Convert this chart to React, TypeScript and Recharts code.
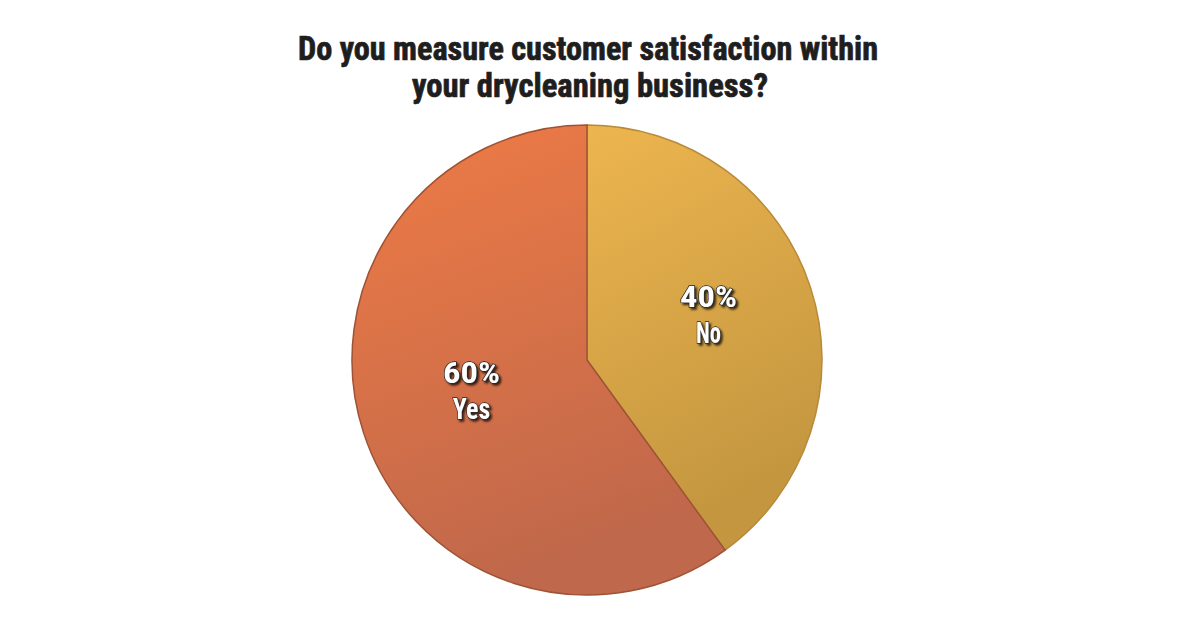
import React from 'react'
import { PieChart, Pie, Cell } from 'recharts'

const TITLE_LINES = ['Do you measure customer satisfaction within', 'your drycleaning business?']
const ANSWERS = ['No', 'Yes']
const SHARES = [40, 60]
const GRADIENTS = [
  { id: 'gradNo', top: '#edb54f', bottom: '#c3963f', rim: '#b8893a' },
  { id: 'gradYes', top: '#ef7b45', bottom: '#c0684b', rim: '#9e5236' },
]

const data = ANSWERS.map((name, i) => ({ name, value: SHARES[i] }))

const RAD = Math.PI / 180
const CONDENSED = '"Liberation Sans Narrow", "Roboto Condensed", "Liberation Sans", Arial, sans-serif'

function SliceLabel(props: any) {
  const { cx, cy, midAngle, outerRadius, name, value } = props
  const r = outerRadius * 0.53
  const x = cx + r * Math.cos(-midAngle * RAD) + 3
  const y = cy + r * Math.sin(-midAngle * RAD)
  const textStyle = {
    fill: '#fff',
    stroke: '#262626',
    strokeWidth: 1.3,
    paintOrder: 'stroke' as const,
    fontFamily: CONDENSED,
    fontWeight: 700,
    fontSize: 30,
    filter: 'url(#labelShadow)',
  }
  return (
    <g>
      <text x={x} y={y - 15} textAnchor="middle" textLength={57} lengthAdjust="spacingAndGlyphs" style={textStyle}>
        {`${value}%`}
      </text>
      <text x={x} y={y + 21} textAnchor="middle" textLength={name.length * 12.5} lengthAdjust="spacingAndGlyphs" style={textStyle}>
        {name}
      </text>
    </g>
  )
}

export default function App() {
  const titleProps = {
    textAnchor: 'middle' as const,
    lengthAdjust: 'spacingAndGlyphs' as const,
    fontFamily: CONDENSED,
    fontWeight: 700,
    fontSize: 33,
    fill: '#1e1e1e',
    stroke: '#1e1e1e',
    strokeWidth: 0.7,
  }
  return (
    <div style={{ position: 'absolute', left: 0, top: 0, width: 1200, height: 628, background: '#fff' }}>
      <svg width={1200} height={120} style={{ position: 'absolute', left: 0, top: 0 }}>
        <text x={588} y={60} textLength={580} {...titleProps}>
          {TITLE_LINES[0]}
        </text>
        <text x={590} y={97} textLength={356} {...titleProps}>
          {TITLE_LINES[1]}
        </text>
      </svg>
      <div style={{ position: 'absolute', left: 0, top: 0 }}>
        <PieChart width={1200} height={628} margin={{ top: 0, right: 0, bottom: 0, left: 0 }}>
          <defs>
            {GRADIENTS.map(g => (
              <linearGradient key={g.id} id={g.id} x1="0" y1="0" x2="0.3" y2="1">
                <stop offset="0%" stopColor={g.top} />
                <stop offset="100%" stopColor={g.bottom} />
              </linearGradient>
            ))}
            <filter id="labelShadow" x="-20%" y="-20%" width="140%" height="140%">
              <feDropShadow dx="2" dy="2" stdDeviation="1" floodColor="#000" floodOpacity="0.75" />
            </filter>
          </defs>
          <Pie
            data={data}
            dataKey="value"
            nameKey="name"
            cx={587}
            cy={360}
            outerRadius={235}
            startAngle={90}
            endAngle={-270}
            labelLine={false}
            label={SliceLabel}
            isAnimationActive={false}
          >
            {data.map((d, i) => (
              <Cell key={d.name} fill={`url(#${GRADIENTS[i].id})`} stroke={GRADIENTS[i].rim} strokeWidth={1.5} />
            ))}
          </Pie>
        </PieChart>
      </div>
    </div>
  )
}
